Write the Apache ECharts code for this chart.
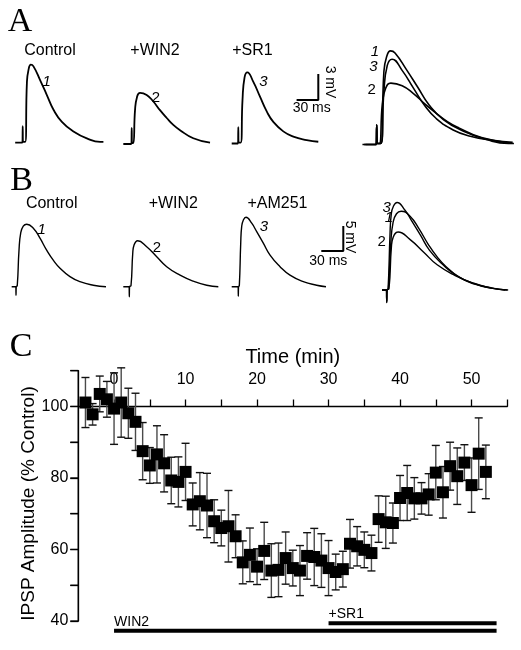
<!DOCTYPE html>
<html><head><meta charset="utf-8">
<script src="https://cdn.jsdelivr.net/npm/echarts@6/dist/echarts.min.js"></script>
<style>html,body{margin:0;padding:0;background:#fff}#c{width:521px;height:650px}</style>
</head><body><div id="c"></div>
<script>
// ---------- Panel A traces: [ms from stimulus, mV] ----------
const traceA1 = [[-10.4,0],[-0.4,0],[0,1.9],[0.4,0.1],[3.4,0.1],[5.8,6.9],[8,8.4],[11.3,9.0],[14.9,8.8],[24.2,7.2],[33.4,5.5],[42.6,3.8],[54.2,2.4],[70.2,1.3],[88.7,0.5],[107.1,0.1],[111.6,0.1]];
const traceA2 = [[-11.6,0],[-0.4,0],[0,1.85],[0.4,0.1],[2.2,0.1],[4.6,3.9],[7.3,5.4],[11.5,5.9],[20.7,5.65],[29.9,4.9],[39.1,3.9],[48.4,3.0],[57.5,2.2],[66.8,1.6],[85.2,0.66],[108.3,0.15]];
const traceA3 = [[-9.1,0],[-0.4,0],[0,1.9],[0.4,0.1],[3.3,0.1],[5.8,5.0],[8.6,7.6],[12.5,8.2],[20.8,7.1],[30,5.4],[39.3,3.7],[48.4,2.5],[62.2,1.4],[76.1,0.8],[94.6,0.4],[110.6,0.2]];
const condA = ['Control', '+WIN2', '+SR1'];
const scaleA = [30, 3]; // ms, mV

// ---------- Panel B traces ----------
const traceB1 = [[-5.9,0],[-0.2,0],[0,-1.7],[0.3,0],[1.7,0.2],[4.1,7.3],[6.4,10.7],[9.9,12.1],[14.6,12.5],[23.6,11.7],[32.7,9.7],[41.8,7.3],[50.8,5.3],[60,3.7],[73.6,2.0],[87.2,1.0],[105.4,0.3],[122.7,0]];
const traceB2 = [[-8.2,0],[-0.2,0],[0,-2],[0.3,0],[2.3,0.2],[4.7,6.7],[6.4,8.3],[11.5,9.2],[23.7,8.0],[37.4,6],[51,4],[69.2,2.3],[87.3,1.1],[105.6,0.3],[121.4,0]];
const traceB3 = [[-9,0],[-0.2,0],[0,-1.9],[0.3,0],[1.4,0.2],[3.3,8.7],[4.6,12],[6.8,13.3],[10.5,13.9],[18.3,12.7],[25.1,11],[34.1,8.7],[43.3,6.3],[56.9,4],[70.5,2.3],[88.6,1.0],[106.9,0.3],[119.6,0]];
const condB = ['Control', '+WIN2', '+AM251'];
const scaleB = [30, 5];

// ---------- Panel C ----------
const timeMin = [-4,-3,-2,-1,0,1,2,3,4,5,6,7,8,9,10,11,12,13,14,15,16,17,18,19,20,21,22,23,24,25,26,27,28,29,30,31,32,33,34,35,36,37,38,39,40,41,42,43,44,45,46,47,48,49,50,51,52];
const ipspAmp = [101.1,97.8,103.5,102,99.4,101.1,98.1,95.7,87.5,83.5,86.6,84.1,79.3,78.9,81.7,72.6,73.5,72.3,67.9,66,66.5,63.7,56.4,58.5,55.2,59.6,54.1,54.3,57.6,54.8,54.1,58.2,57.9,56.9,54.8,53.7,54.5,61.6,60.9,59.9,59,68.5,67.6,67.4,74.4,75.8,74.3,74.3,75.4,81.5,76,83.3,80.5,84.3,78,86.8,81.7];
const ipspSem = [7,3,5,5,10,9.7,7,8,8,5,8,8,6.5,7,8,6,8,9,6,5,10,6,6,7.5,5,8,7.5,7.5,7.3,5,7,6.5,8,7.5,7.7,5,5,6.8,5.5,5,5,6.5,7.3,5.6,6.3,7.7,5.8,4.4,5.8,7.6,7.2,6.7,7.9,5,7.6,10,7.5];
const yTicks = [40,50,60,70,80,90,100,110];
const yTickLabels = ['40','','60','','80','','100',''];
const treatNames = ['WIN2', '+SR1'];
const treatStart = [0, 30];
const treatEnd = [53.5, 53.5];

// ---------- layout ----------
const SANS = 'Liberation Sans, Arial, Helvetica, sans-serif';
const SERIF = 'Liberation Serif, Times New Roman, serif';
function place(artX, baseY, sx, sy, xr, yr) {
  return {left: artX + xr[0]*sx, top: baseY - yr[1]*sy, width: (xr[1]-xr[0])*sx, height: (yr[1]-yr[0])*sy};
}
const grids = [], xAxes = [], yAxes = [], series = [];
function addGrid(g, xr, yr) {
  const i = grids.length;
  grids.push(g);
  xAxes.push({type:'value', gridIndex:i, min:xr[0], max:xr[1], show:false});
  yAxes.push({type:'value', gridIndex:i, min:yr[0], max:yr[1], show:false});
  return i;
}
function traceSeries(data, gi, w) {
  return {type:'line', xAxisIndex:gi, yAxisIndex:gi, data:data, symbol:'none', showSymbol:false,
    smooth:0.5, lineStyle:{color:'#000', width:w, join:'round'}, silent:true, animation:false};
}
// Panel A
const sxA = 0.7233, syA = 8.67, xrA = [-12, 115], yrA = [-2.5, 10];
const posA = [[22.7, 142.7], [131.7, 144], [238.3, 143.5]];
[traceA1, traceA2, traceA3].forEach((tr, k) => {
  const gi = addGrid(place(posA[k][0], posA[k][1], sxA, syA, xrA, yrA), xrA, yrA);
  series.push(traceSeries(tr, gi, 1.8));
});
const xrAo = [-11, 112];
const giAo = addGrid(place(376.7, 144.5, sxA*1.7, syA*1.2, xrAo, yrA), xrAo, yrA);
[traceA1, traceA2, traceA3].forEach(tr => series.push(traceSeries(tr, giAo, 1.6)));
const xrSa = [-scaleA[0], 0], yrSa = [0, scaleA[1]];
const giSa = addGrid(place(318.3, 100, sxA, syA, xrSa, yrSa), xrSa, yrSa);
series.push({type:'line', xAxisIndex:giSa, yAxisIndex:giSa, data:[[-scaleA[0],0],[0,0],[0,scaleA[1]]], symbol:'none', clip:false, lineStyle:{color:'#000', width:2}, silent:true, animation:false});

// Panel B
const sxB = 0.7333, syB = 5, xrB = [-12, 125], yrB = [-3, 15];
const posB = [[16, 286.7], [129.3, 286.7], [238.3, 286.7]];
[traceB1, traceB2, traceB3].forEach((tr, k) => {
  const gi = addGrid(place(posB[k][0], posB[k][1], sxB, syB, xrB, yrB), xrB, yrB);
  series.push(traceSeries(tr, gi, 1.4));
});
const xrBo = [-3.5, 123];
const giBo = addGrid(place(386.7, 290, sxB*1.35, syB*1.26, xrBo, yrB), xrBo, yrB);
[traceB1, traceB2, traceB3].forEach(tr => series.push(traceSeries(tr, giBo, 1.4)));
const xrSb = [-scaleB[0], 0], yrSb = [0, scaleB[1]];
const giSb = addGrid(place(343.3, 251, sxB, syB, xrSb, yrSb), xrSb, yrSb);
series.push({type:'line', xAxisIndex:giSb, yAxisIndex:giSb, data:[[-scaleB[0],0],[0,0],[0,scaleB[1]]], symbol:'none', clip:false, lineStyle:{color:'#000', width:2}, silent:true, animation:false});

// Panel C main grid (data)
const giC = grids.length;
grids.push({left:78.3, top:370.7, width:429, height:250.3});
xAxes.push({type:'value', gridIndex:giC, min:-5, max:55, show:false});
yAxes.push({type:'value', gridIndex:giC, min:40, max:110, interval:10, position:'left',
  axisLine:{show:true, onZero:false, lineStyle:{color:'#000', width:1.3}},
  axisTick:{show:true, length:8, lineStyle:{color:'#000', width:1.3}},
  axisLabel:{show:false}, splitLine:{show:false}});
// time axis at 100 %
const giT = grids.length;
grids.push({left:78.3, top:406.5, width:429, height:1});
xAxes.push({type:'value', gridIndex:giT, position:'top', min:-5, max:55, interval:5,
  axisLine:{show:true, onZero:false, lineStyle:{color:'#000', width:1.3}},
  axisTick:{show:true, length:7, lineStyle:{color:'#000', width:1.3}},
  axisLabel:{formatter: v => (v >= 0 && v % 10 === 0 ? String(v) : ''), fontSize:16, color:'#000', margin:19, fontFamily:SANS},
  splitLine:{show:false},
  name:'Time (min)', nameLocation:'middle', nameGap:39,
  nameTextStyle:{fontSize:20, color:'#000', fontFamily:SANS}});
yAxes.push({type:'value', gridIndex:giT, min:0, max:1, show:false});
// treatment bars
const giR = grids.length;
grids.push({left:78.3, top:623.3, width:429, height:7.4});
xAxes.push({type:'value', gridIndex:giR, min:-5, max:55, show:false});
yAxes.push({type:'value', gridIndex:giR, min:0, max:1, show:false});

// y axis line through the plot's own scale (left edge of the time range)
series.push({type:'line', xAxisIndex:giC, yAxisIndex:giC, clip:false, z:10, symbol:'none', silent:true, animation:false,
  data:[[-5, yTicks[0]], [-5, yTicks[yTicks.length-1]]], lineStyle:{color:'#000', width:1.4}});
// y ticks and labels
series.push({type:'custom', xAxisIndex:giC, yAxisIndex:giC, silent:true, animation:false, clip:false, z:10,
  data: yTicks.map((v, i) => [-5, v, i]),
  renderItem: function(params, api) {
    const p = api.coord([api.value(0), api.value(1)]);
    const i = params.dataIndex;
    return {type:'group', children:[
      {type:'line', shape:{x1:p[0]-8, y1:p[1], x2:p[0], y2:p[1]}, style:{stroke:'#000', lineWidth:1.3}},
      {type:'text', x:p[0]-10, y:p[1], style:{text:yTickLabels[i], fontSize:16, fontFamily:SANS, fill:'#000',
        textAlign:'right', align:'right', textVerticalAlign:'middle', verticalAlign:'middle'}}
    ]};
  }});
series.push({type:'custom', xAxisIndex:giC, yAxisIndex:giC, silent:true, animation:false,
  data: timeMin.map((t,i) => [t, ipspAmp[i]-ipspSem[i], ipspAmp[i]+ipspSem[i]]),
  renderItem: function(params, api) {
    const lo = api.coord([api.value(0), api.value(1)]);
    const hi = api.coord([api.value(0), api.value(2)]);
    const hw = 4;
    return {type:'group', children:[
      {type:'line', shape:{x1:lo[0], y1:lo[1], x2:hi[0], y2:hi[1]}, style:{stroke:'#4a4a4a', lineWidth:1.4}},
      {type:'line', shape:{x1:hi[0]-hw, y1:hi[1], x2:hi[0]+hw, y2:hi[1]}, style:{stroke:'#111', lineWidth:1.4}},
      {type:'line', shape:{x1:lo[0]-hw, y1:lo[1], x2:lo[0]+hw, y2:lo[1]}, style:{stroke:'#111', lineWidth:1.4}}
    ]};
  }});
series.push({type:'scatter', xAxisIndex:giC, yAxisIndex:giC, symbol:'rect', symbolSize:12,
  itemStyle:{color:'#000', opacity:1}, data: timeMin.map((t,i) => [t, ipspAmp[i]]), silent:true, animation:false});
series.push({type:'custom', xAxisIndex:giR, yAxisIndex:giR, silent:true, animation:false, clip:false,
  data: treatNames.map((n,i) => [treatStart[i], treatEnd[i], i]),
  renderItem: function(params, api) {
    const s = api.coord([api.value(0), api.value(2)]);
    const e = api.coord([api.value(1), api.value(2)]);
    return {type:'group', children:[
      {type:'rect', shape:{x:s[0], y:s[1]-2, width:e[0]-s[0], height:4}, style:{fill:'#000'}},
      {type:'text', x:s[0], y:s[1]-2, style:{text:treatNames[params.dataIndex], fontSize:14, fontFamily:SANS, fill:'#000',
        textAlign:'left', align:'left', textVerticalAlign:'bottom', verticalAlign:'bottom'}}
    ]};
  }});

// ---------- texts ----------
function txt(text, x, y, size, opts) {
  opts = opts || {};
  return {type:'text', x:x, y:y, rotation:opts.rot || 0, silent:true,
    style:{text:text, fontSize:size, fontFamily:opts.family || SANS, fontStyle:opts.italic ? 'italic' : 'normal',
      fill:'#000', align:'center', verticalAlign:'middle'}};
}
const graphics = [
  txt('A', 20, 22, 34, {family:SERIF}),
  txt('B', 21.5, 181, 34, {family:SERIF}),
  txt('C', 21, 347.5, 34, {family:SERIF}),
  txt('IPSP Amplitude (% Control)', 29, 503.5, 19, {rot:Math.PI/2}),
  txt(condA[0], 50, 51, 16), txt(condA[1], 155, 51, 16), txt(condA[2], 252.5, 51, 16),
  txt(condB[0], 51.7, 204, 16), txt(condB[1], 173.3, 204, 16), txt(condB[2], 277.5, 204, 16),
  txt(scaleA[1] + ' mV', 329.5, 82, 14, {rot:-Math.PI/2}),
  txt(scaleA[0] + ' ms', 311.7, 108.3, 14),
  txt(scaleB[1] + ' mV', 350, 237, 14, {rot:-Math.PI/2}),
  txt(scaleB[0] + ' ms', 328.3, 260.8, 14),
  txt('1', 46.7, 81.7, 15, {italic:true}), txt('2', 156, 98.3, 15), txt('3', 263.3, 81.7, 15, {italic:true}),
  txt('1', 375, 51.7, 15, {italic:true}), txt('3', 373.3, 66.7, 15, {italic:true}), txt('2', 371.7, 90, 15),
  txt('1', 41.7, 230, 15, {italic:true}), txt('2', 157, 247.5, 15), txt('3', 264, 226.7, 15, {italic:true}),
  txt('3', 386.7, 208.3, 15, {italic:true}), txt('1', 388.8, 217.5, 15, {italic:true}), txt('2', 381.7, 242, 15)
];

const chart = echarts.init(document.getElementById('c'), null, {renderer:'canvas'});
chart.setOption({
  backgroundColor:'#fff', animation:false,
  grid:grids, xAxis:xAxes, yAxis:yAxes, series:series, graphic:graphics
});
</script></body></html>
